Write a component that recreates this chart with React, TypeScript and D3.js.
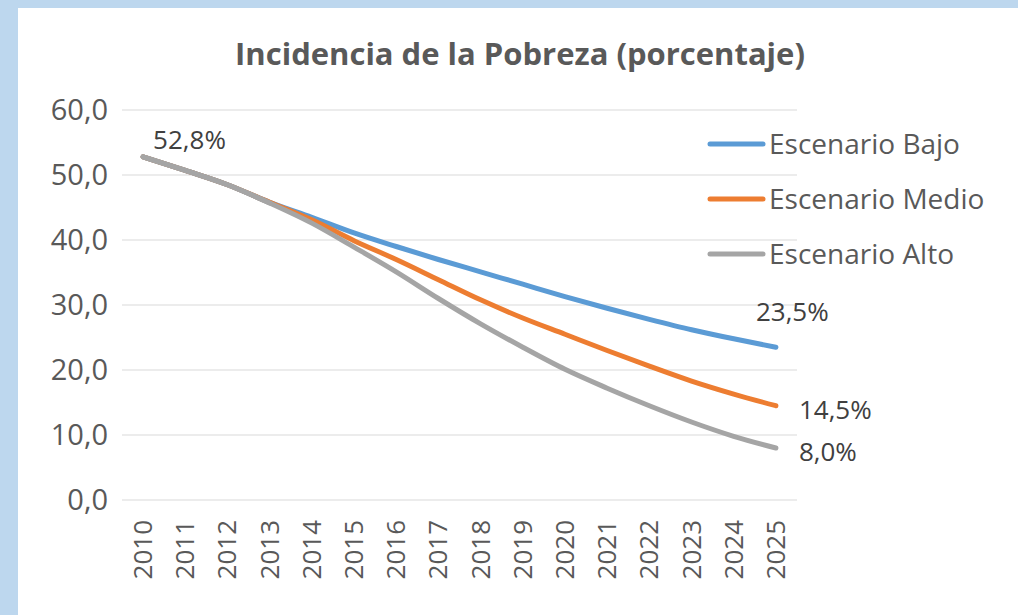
import React, { useEffect, useRef } from "react";
import * as d3 from "d3";

const years = ["2010", "2011", "2012", "2013", "2014", "2015", "2016", "2017", "2018", "2019", "2020", "2021", "2022", "2023", "2024", "2025"];
const bajo = [52.8, 50.7, 48.5, 45.8, 43.5, 41.1, 39.0, 37.0, 35.1, 33.2, 31.3, 29.5, 27.8, 26.2, 24.8, 23.5];
const medio = [52.8, 50.7, 48.5, 45.8, 43.1, 39.9, 37.0, 33.9, 30.8, 28.0, 25.5, 23.0, 20.6, 18.3, 16.3, 14.5];
const alto = [52.8, 50.7, 48.5, 45.7, 42.6, 38.9, 35.1, 31.0, 27.1, 23.5, 20.1, 17.2, 14.5, 12.0, 9.8, 8.0];
const yTicks = [0, 10, 20, 30, 40, 50, 60];
const seriesNames = ["Escenario Bajo", "Escenario Medio", "Escenario Alto"];
const colors = ["#5B9BD5", "#ED7D31", "#A5A5A5"];

export default function App() {
  const ref = useRef<SVGSVGElement>(null);

  useEffect(() => {
    const svg = d3.select(ref.current);
    svg.selectAll("*").remove();
    const W = 1018, H = 615;
    const font = "Open Sans, Liberation Sans, sans-serif";
    const textColor = "#595959";

    // background + border
    svg.append("rect").attr("width", W).attr("height", H).attr("fill", "#BDD7EE");
    svg.append("rect").attr("x", 18).attr("y", 8).attr("width", W - 18).attr("height", H - 8).attr("fill", "#fff");

    const x = d3.scaleBand().domain(years).range([122, 797]);
    const y = d3.scaleLinear().domain([0, 60]).range([500, 110]);

    // title
    svg.append("text")
      .attr("x", 520).attr("y", 65)
      .attr("text-anchor", "middle")
      .style("font-family", font).style("font-weight", "bold").style("font-size", "31px")
      .attr("fill", textColor)
      .text("Incidencia de la Pobreza (porcentaje)");

    // gridlines
    svg.append("g").selectAll("line").data(yTicks).enter().append("line")
      .attr("x1", 122).attr("x2", 797)
      .attr("y1", d => y(d)).attr("y2", d => y(d))
      .attr("stroke", "#D9D9D9").attr("stroke-width", 1.2);

    // y labels
    svg.append("g").selectAll("text").data(yTicks).enter().append("text")
      .attr("x", 108).attr("y", d => y(d) + 10)
      .attr("text-anchor", "end")
      .style("font-family", font).style("font-size", "29px")
      .attr("fill", textColor)
      .text(d => d3.format(".1f")(d).replace(".", ","));

    // x labels
    svg.append("g").selectAll("text").data(years).enter().append("text")
      .attr("transform", d => `translate(${x(d)! + x.bandwidth() / 2 + 9},520) rotate(-90)`)
      .attr("text-anchor", "end")
      .style("font-family", font).style("font-size", "26px")
      .attr("fill", textColor)
      .text(d => d);

    const line = d3.line<number>()
      .x((_, i) => x(years[i])! + x.bandwidth() / 2)
      .y(d => y(d))
      .curve(d3.curveMonotoneX);

    [bajo, medio, alto].forEach((s, i) => {
      svg.append("path")
        .datum(s)
        .attr("d", line)
        .attr("fill", "none")
        .attr("stroke", colors[i])
        .attr("stroke-width", 5)
        .attr("stroke-linecap", "round")
        .attr("stroke-linejoin", "round");
    });
    // shared start drawn in gray on top
    svg.append("path")
      .datum(alto.slice(0, 4))
      .attr("d", line)
      .attr("fill", "none").attr("stroke", colors[2]).attr("stroke-width", 5)
      .attr("stroke-linecap", "round");

    // data labels
    const lab = (txt: string, lx: number, ly: number) =>
      svg.append("text").attr("x", lx).attr("y", ly)
        .style("font-family", font).style("font-size", "26px")
        .attr("fill", "#404040").text(txt);
    const last = years.length - 1;
    const xEnd = x(years[last])! + x.bandwidth() / 2;
    lab("52,8%", x(years[0])! + x.bandwidth() / 2 + 10, y(bajo[0]) - 8);
    lab("23,5%", xEnd - 20, y(bajo[last]) - 26);
    lab("14,5%", xEnd + 23, y(medio[last]) + 13);
    lab("8,0%", xEnd + 23, y(alto[last]) + 13);

    // legend
    seriesNames.forEach((n, i) => {
      const ly = 144 + i * 55;
      svg.append("line").attr("x1", 710).attr("x2", 763).attr("y1", ly).attr("y2", ly)
        .attr("stroke", colors[i]).attr("stroke-width", 5).attr("stroke-linecap", "round");
      svg.append("text").attr("x", 769).attr("y", ly + 10)
        .style("font-family", font).style("font-size", "28px")
        .attr("fill", textColor).text(n);
    });
  }, []);

  return (
    <div style={{ position: "absolute", left: 0, top: 0 }}>
      <svg ref={ref} width={1018} height={615} style={{ display: "block" }}></svg>
    </div>
  );
}
